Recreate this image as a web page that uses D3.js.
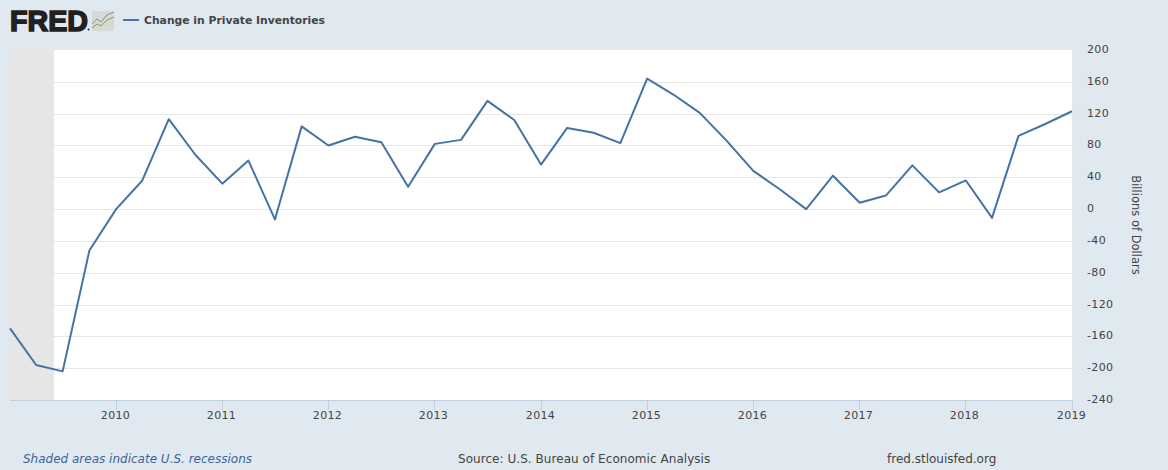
<!DOCTYPE html>
<html><head><meta charset="utf-8">
<script src="https://cdn.jsdelivr.net/npm/d3@7"></script>
<style>
html,body{margin:0;padding:0;background:#e1e9f0;overflow:hidden}
svg{display:block;font-family:"DejaVu Sans",sans-serif}
</style></head><body><div id="c"></div>
<script>
const seriesName="Change in Private Inventories";
const yAxisTitle="Billions of Dollars";
const quarters=["2009-01-01","2009-04-01","2009-07-01","2009-10-01","2010-01-01","2010-04-01","2010-07-01","2010-10-01","2011-01-01","2011-04-01","2011-07-01","2011-10-01","2012-01-01","2012-04-01","2012-07-01","2012-10-01","2013-01-01","2013-04-01","2013-07-01","2013-10-01","2014-01-01","2014-04-01","2014-07-01","2014-10-01","2015-01-01","2015-04-01","2015-07-01","2015-10-01","2016-01-01","2016-04-01","2016-07-01","2016-10-01","2017-01-01","2017-04-01","2017-07-01","2017-10-01","2018-01-01","2018-04-01","2018-07-01","2018-10-01","2019-01-01"];
const values=[-150,-196,-204,-52,0,36,113,68,32,61,-13,104,80,91,84,28,82,87,136,112,56,102,96,83,164,144,121,86,48,25,0,42,8,17,55,21,36,-11,92,107,123];
const yTicks=[200,160,120,80,40,0,-40,-80,-120,-160,-200,-240];
const xTickYears=[2010,2011,2012,2013,2014,2015,2016,2017,2018,2019];
const recession=["2009-01-01","2009-06-01"];

const W=1168,H=470,L=9.5,R=1071.5,T=50,B=400;
const parse=d3.utcParse("%Y-%m-%d");
const dates=quarters.map(parse);
const x=d3.scaleUtc().domain([dates[0],dates[dates.length-1]]).range([L,R]);
const y=d3.scaleLinear().domain([-240,200]).range([B,T]);
const svg=d3.select("#c").append("svg").attr("width",W).attr("height",H);
svg.append("rect").attr("width",W).attr("height",H).attr("fill","#e1e9f0");
svg.append("rect").attr("x",L+.5).attr("y",T).attr("width",R-L).attr("height",B-T).attr("fill","#fff");
svg.append("rect").attr("x",x(parse(recession[0]))+.5).attr("y",T)
  .attr("width",x(parse(recession[1]))-x(parse(recession[0]))).attr("height",B-T).attr("fill","#e6e6e6");

const grid=svg.append("g");
grid.selectAll("line").data(yTicks.filter(d=>d<200&&d>-240)).join("line")
  .attr("x1",L+.5).attr("x2",R).attr("y1",d=>Math.round(y(d))+.5).attr("y2",d=>Math.round(y(d))+.5)
  .attr("stroke","#e6e6e6").attr("stroke-width",1);
svg.append("g").selectAll("text").data(yTicks).join("text")
  .attr("x",1087).attr("y",d=>y(d)+3).text(d=>d)
  .attr("font-size",11).attr("letter-spacing",.35).attr("fill","#444");

svg.append("line").attr("x1",L+.5).attr("x2",R+.5).attr("y1",B+.5).attr("y2",B+.5).attr("stroke","#c0d0e0");
const xt=svg.append("g").selectAll("g").data(xTickYears).join("g")
  .attr("transform",d=>`translate(${Math.round(x(Date.UTC(d,0,1)))},${B})`);
xt.append("line").attr("x1",.5).attr("x2",.5).attr("y1",0).attr("y2",10).attr("stroke","#c0d0e0");
xt.append("text").attr("x",-.5).attr("y",19).attr("text-anchor","middle").text(d=>d)
  .attr("font-size",11).attr("letter-spacing",.35).attr("fill","#444");

const line=d3.line().x((d,i)=>x(dates[i])+.5).y(d=>y(d));
svg.append("path").datum(values).attr("d",line).attr("fill","none")
  .attr("stroke","#4572a7").attr("stroke-width",2).attr("stroke-linejoin","round");

svg.append("text").attr("transform","translate(1132,225) rotate(90)").attr("text-anchor","middle")
  .text(yAxisTitle).attr("font-size",11.5).attr("fill","#444");

svg.append("text").attr("x",10).attr("y",30.5).text("FRED")
  .attr("font-family","Liberation Sans").attr("font-weight",700).attr("font-size",29.5)
  .attr("stroke","#231f20").attr("stroke-width",1.6).attr("fill","#231f20")
  .attr("textLength",78).attr("lengthAdjust","spacingAndGlyphs");
svg.append("circle").attr("cx",88.5).attr("cy",29.5).attr("r",1).attr("fill","#231f20");
const ic=svg.append("g").attr("transform","translate(92,11)");
ic.append("rect").attr("width",22).attr("height",20).attr("rx",2).attr("fill","#d8d9d6");
ic.append("path").attr("d","M0 13L5 8L9 11L15 4L22 1").attr("fill","none").attr("stroke","#6b93b5").attr("stroke-width",1);
ic.append("path").attr("d","M0 17L5 13L9 15L15 9L22 6").attr("fill","none").attr("stroke","#7fa04f").attr("stroke-width",1);
svg.append("line").attr("x1",123).attr("x2",139).attr("y1",20).attr("y2",20).attr("stroke","#4572a7").attr("stroke-width",2);
svg.append("text").attr("x",144).attr("y",24).text(seriesName)
  .attr("font-size",11).attr("font-weight",700).attr("fill","#444")
  .attr("textLength",181).attr("lengthAdjust","spacingAndGlyphs");

svg.append("text").attr("x",23).attr("y",463).text("Shaded areas indicate U.S. recessions")
  .attr("font-size",12).attr("font-style","italic").attr("fill","#3d6499");
svg.append("text").attr("x",458).attr("y",463).text("Source: U.S. Bureau of Economic Analysis")
  .attr("font-size",12).attr("letter-spacing",.05).attr("fill","#444");
svg.append("text").attr("x",887).attr("y",463).text("fred.stlouisfed.org")
  .attr("font-size",12).attr("fill","#444");
</script></body></html>
